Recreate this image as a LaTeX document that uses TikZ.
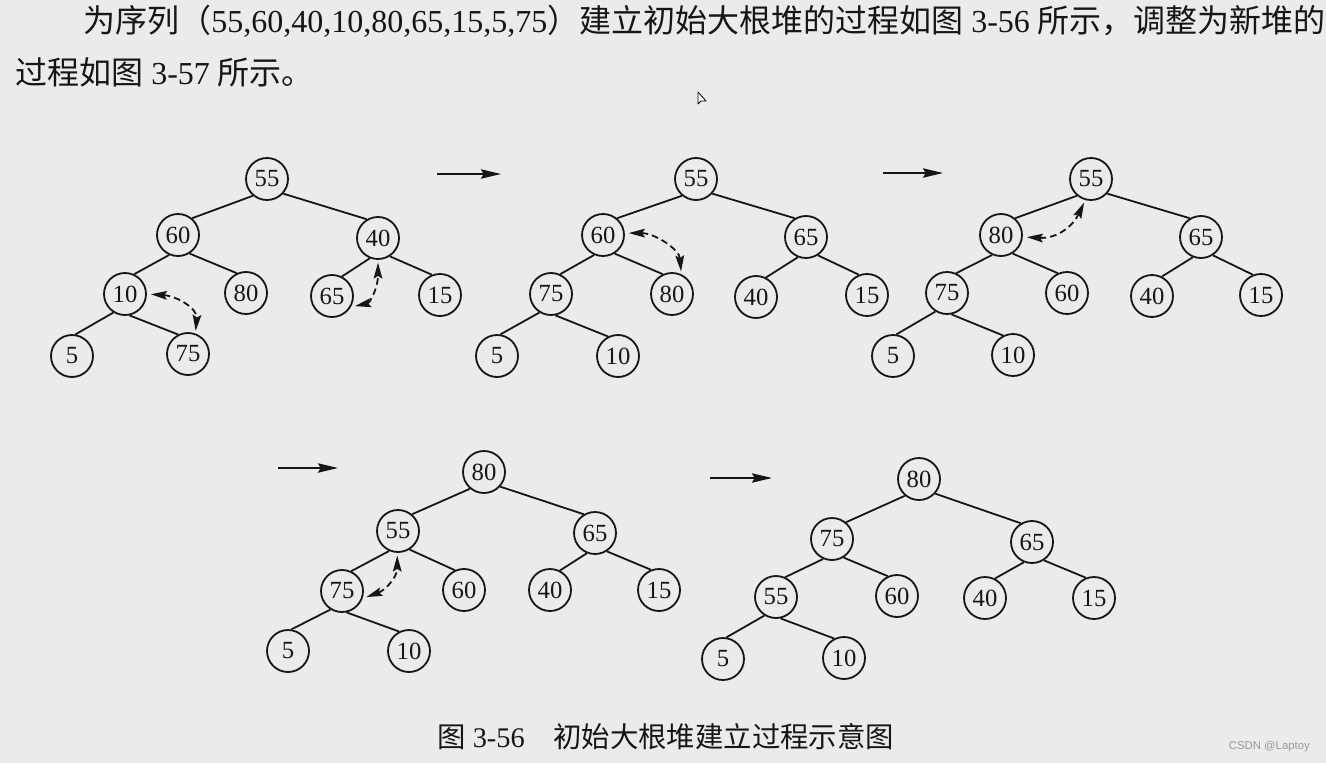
\documentclass[tikz,border=0pt]{standalone}
\usepackage{fontspec}
\setmainfont{Liberation Serif}
\newfontfamily\cjk{Noto Sans CJK SC}
\newfontfamily\wmfont{Liberation Sans}
\usetikzlibrary{arrows.meta}
\definecolor{bgc}{HTML}{EBEBEB}
\definecolor{ink}{HTML}{161616}
\definecolor{wmc}{HTML}{9A9A9A}
\tikzset{
  hn/.style={circle, draw=ink, line width=1.35pt, minimum size=31.5pt, inner sep=0pt,
    text=ink, font=\fontsize{18.5}{20}\selectfont},
  edge/.style={draw=ink, line width=1.35pt},
  bigarrow/.style={draw=ink, line width=1.35pt, -{Stealth[length=15pt,width=7pt,inset=2pt]}},
  swaparrow/.style={draw=ink, line width=1.35pt, dash pattern=on 5pt off 3pt,
    {Stealth[length=12pt,width=6.5pt,inset=2pt]}-{Stealth[length=12pt,width=6.5pt,inset=2pt]},
    shorten <=3pt, shorten >=2pt},
  bodytext/.style={text=ink, inner sep=0pt, font=\fontsize{24}{28}\selectfont},
  captext/.style={text=ink, inner sep=0pt, font=\fontsize{21.3}{24}\selectfont},
}
\begin{document}
\begin{tikzpicture}[x=0.75pt, y=-0.75pt]
\fill[bgc] (0,0) rectangle (1326,763);
\useasboundingbox (0,0) rectangle (1326,763);

% text
\node[bodytext, anchor=base west] (line1) at (83,33)
  {{\cjk 为序列（}55,60,40,10,80,65,15,5,75{\cjk ）建立初始大根堆的过程如图} 3-56 {\cjk 所示，调整为新堆的}};
\node[bodytext, anchor=base west] (line2) at (15,85)
  {{\cjk 过程如图} 3-57 {\cjk 所示。}};
\node[captext, anchor=base west] (cap) at (437,747)
  {{\cjk 图} 3-56{\cjk 　初始大根堆建立过程示意图}};
\node[anchor=east, inner sep=0pt, text=wmc, font=\wmfont\fontsize{8.5}{10}\selectfont] (wm) at (1310,747) {CSDN @Laptoy};

% cursor
\draw[black, fill=white, line width=0.6pt, line join=round] (698,92) -- (698,104) -- (701,101) -- (706,101) -- cycle;

% trees
\foreach \n/\x/\y/\t in {a/267/179/55, b/178/235/60, c/378/238/40, d/125/294/10, e/246/293/80, f/332/296/65, g/440/295/15, h/72/356/5, i/188/354/75}
  \node[hn] (t1\n) at (\x,\y) {\t};
\foreach \n/\x/\y/\t in {a/696/179/55, b/603/235/60, c/806/237/65, d/551/294/75, e/672/294/80, f/756/297/40, g/867/295/15, h/497/356/5, i/618/356/10}
  \node[hn] (t2\n) at (\x,\y) {\t};
\foreach \n/\x/\y/\t in {a/1091/179/55, b/1001/235/80, c/1201/237/65, d/947/293/75, e/1067/293/60, f/1152/296/40, g/1261/295/15, h/893/356/5, i/1013/355/10}
  \node[hn] (t3\n) at (\x,\y) {\t};
\foreach \n/\x/\y/\t in {a/484/472/80, b/398/531/55, c/595/533/65, d/342/591/75, e/464/590/60, f/550/590/40, g/659/590/15, h/288/651/5, i/409/651/10}
  \node[hn] (t4\n) at (\x,\y) {\t};
\foreach \n/\x/\y/\t in {a/919/479/80, b/832/539/75, c/1032/542/65, d/776/597/55, e/897/596/60, f/985/598/40, g/1094/598/15, h/723/659/5, i/844/658/10}
  \node[hn] (t5\n) at (\x,\y) {\t};

\foreach \k in {1,...,5}
  \foreach \p/\pa/\c/\ca in {a/-130/b/50, a/-42/c/121, b/-114/d/65, b/-58/e/115, c/-112/f/63, c/-57/g/112, d/-122/h/81, d/-78/i/117}
    \draw[edge] (t\k\p.\pa) -- (t\k\c.\ca);

% step arrows
\coordinate (s1) at (437,174); \coordinate (e1) at (501,174);
\coordinate (s2) at (883,173); \coordinate (e2) at (943,173);
\coordinate (s3) at (278,468); \coordinate (e3) at (338,468);
\coordinate (s4) at (710,478); \coordinate (e4) at (772,478);
\foreach \k in {1,...,4} \draw[bigarrow] (s\k) -- (e\k);

% swap arrows
\draw[swaparrow] (t1d.0) .. controls +(30,2) and +(2,-25) .. (t1i.70);
\draw[swaparrow] (t1f.-30) .. controls +(19,-4) and +(0,28) .. (t1c.-90);
\draw[swaparrow] (t2b.5) .. controls +(30,0) and +(-2,-25) .. (t2e.65);
\draw[swaparrow] (t3b.-5) .. controls +(35,2) and +(-12,25) .. (t3a.-105);
\draw[swaparrow] (t4d.-20) .. controls +(22,-8) and +(0,25) .. (t4b.-92);
\end{tikzpicture}
\end{document}
